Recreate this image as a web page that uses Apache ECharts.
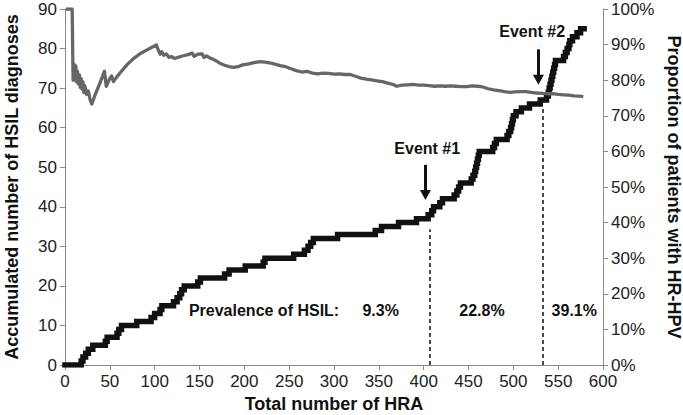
<!DOCTYPE html>
<html><head><meta charset="utf-8">
<script src="https://cdn.jsdelivr.net/npm/echarts@6/dist/echarts.min.js"></script>
<style>html,body{margin:0;padding:0;background:#fff}#c{width:683px;height:415px}</style>
</head><body><div id="c"></div>
<script>
// Accumulated number of HSIL diagnoses (step curve): HRA count -> accumulated count
const hsilX = [0,18,20,23,26,31,45,47,58,60,63,80,96,100,106,108,121,125,128,130,133,148,151,178,183,201,221,223,255,267,271,274,277,304,346,353,372,392,405,409,411,418,421,434,437,439,441,453,455,457,458,459,460,461,462,477,479,481,493,495,497,498,499,500,503,509,518,530,537,539,540,541,542,543,544,545,546,547,556,558,560,562,563,566,571,575,579];
const hsilY = [0,1,2,3,4,5,6,7,8,9,10,11,12,13,14,15,16,17,18,19,20,21,22,23,24,25,26,27,28,29,30,31,32,33,34,35,36,37,38,39,40,41,42,43,44,45,46,47,48,49,50,51,52,53,54,55,56,57,58,59,60,61,62,63,64,65,66,67,68,69,70,71,72,73,74,75,76,77,78,79,80,81,82,83,84,85,85];
// Proportion of patients with HR-HPV (%)
const hpvX = [1,8,9,10,11,12,13,14,15,16,17,18,19,20,21,22,24,26,28,30,33,37,41,44,46,49,52,54,58,63,69,76,84,92,98,102,104,106,108,110,113,116,119,122,126,131,137,142,144,148,153,155,158,162,166,170,174,178,183,188,193,198,205,212,218,223,228,234,240,246,252,258,264,270,276,282,288,294,300,306,312,318,324,330,336,342,348,354,360,366,370,376,382,388,394,400,406,412,418,424,430,436,442,448,454,460,466,472,478,484,490,496,502,508,514,520,526,532,538,544,550,556,562,568,574,578];
const hpvPct = [100,100,80,84.5,80,84,79.5,82.5,79,81.5,78,80.5,77.5,79.5,76.5,78.5,76,77,74.5,73.3,75.5,78,80.5,82.5,78.3,80,81.2,79.6,81,82.5,84.3,86,87.5,88.6,89.4,89.9,88.5,87.3,88,87,87.4,86.4,86.6,86.1,86.4,86.8,87.2,87.6,86.7,87.3,87.4,86.4,86.8,86.2,85.8,85.2,84.6,84.2,83.8,83.6,83.8,84.3,84.6,85,85.2,85.1,84.9,84.5,84.1,83.8,83.2,82.7,82.3,82.5,82,81.8,82,81.9,81.7,81.8,81.6,81.6,81.1,80.6,80.3,80.1,79.8,79.6,79.2,78.8,78.3,78.6,78.7,78.8,78.6,78.6,78.5,78.3,78.4,78.3,78.4,78.3,78.2,78.2,78.4,78.3,78.1,77.6,77.3,77.1,76.8,76.6,76.7,76.8,76.8,76.6,76.4,76.3,76.2,76.2,76,75.9,75.8,75.6,75.5,75.4];
// Annotations
const eventX = [407, 533];
const eventLineTop = [34.3, 64.7];
const eventNames = ['Event #1', 'Event #2'];
const eventLabelPos = [[404, 54.7], [521, 84.2]];
const arrowX = [402, 528];
const arrowFrom = [50.6, 79.8];
const arrowTo = [43.0, 72.1];
const prevTexts = ['Prevalence of HSIL:', '9.3%', '22.8%', '39.1%'];
const prevTextX = [222, 352, 465, 568];
const prevTextY = 13.8;

const FONT = 'Liberation Sans, Arial, Helvetica, sans-serif';
const axisGray = '#8a8a8a';

const blackData = hsilX.map((x, i) => [x, hsilY[i]]);
const grayData = hpvX.map((x, i) => [x, hpvPct[i]]);

const mlData = [];
eventX.forEach((x, i) => {
  mlData.push([{coord: [x, 0], symbol: 'none'}, {coord: [x, eventLineTop[i]], symbol: 'none'}]);
});
arrowX.forEach((x, i) => {
  mlData.push([
    {coord: [x, arrowFrom[i]], symbol: 'none', lineStyle: {type: 'solid', width: 3, color: '#111'}},
    {coord: [x, arrowTo[i]], symbol: 'triangle', symbolSize: [11, 10], lineStyle: {type: 'solid', width: 3, color: '#111'}}
  ]);
});
const mpData = [];
eventNames.forEach((t, i) => mpData.push({coord: eventLabelPos[i], value: t}));
prevTexts.forEach((t, i) => mpData.push({coord: [prevTextX[i], prevTextY], value: t}));

const chart = echarts.init(document.getElementById('c'), null, {renderer: 'svg'});
chart.setOption({
  animation: false,
  backgroundColor: '#fff',
  textStyle: {fontFamily: FONT},
  grid: {left: 65, right: 80, top: 9, bottom: 50, outerBoundsMode: 'none', containLabel: false},
  xAxis: {
    type: 'value', min: 0, max: 600, interval: 50,
    name: 'Total number of HRA', nameLocation: 'middle', nameGap: 28,
    nameTextStyle: {fontFamily: FONT, fontSize: 18, fontWeight: 'bold', color: '#111'},
    axisLine: {show: true, lineStyle: {color: axisGray}},
    axisTick: {show: true, length: 5, lineStyle: {color: axisGray}},
    axisLabel: {fontFamily: FONT, fontSize: 17, color: '#222', margin: 8},
    splitLine: {show: false}
  },
  yAxis: [{
    type: 'value', min: 0, max: 90, interval: 10,
    name: 'Accumulated number of HSIL diagnoses', nameLocation: 'middle', nameGap: 44,
    nameTextStyle: {fontFamily: FONT, fontSize: 18, fontWeight: 'bold', color: '#111'},
    axisLine: {show: true, lineStyle: {color: axisGray}},
    axisTick: {show: true, length: 5, lineStyle: {color: axisGray}},
    axisLabel: {fontFamily: FONT, fontSize: 17, lineHeight: 14, color: '#222', margin: 8},
    splitLine: {show: false}
  }, {
    type: 'value', min: 0, max: 100, interval: 10, position: 'right',
    name: 'Proportion of patients with HR-HPV', nameLocation: 'middle', nameGap: 55, nameRotate: -90,
    nameTextStyle: {fontFamily: FONT, fontSize: 18, fontWeight: 'bold', color: '#111'},
    axisLine: {show: true, lineStyle: {color: axisGray}},
    axisTick: {show: true, length: 5, lineStyle: {color: axisGray}},
    axisLabel: {fontFamily: FONT, fontSize: 17, lineHeight: 14, color: '#222', margin: 8, formatter: '{value}%'},
    splitLine: {show: false}
  }],
  series: [{
    type: 'line', yAxisIndex: 0, data: blackData, step: 'end', showSymbol: false,
    lineStyle: {color: '#111', width: 5.5, join: 'miter', cap: 'square'},
    z: 2,
    markLine: {
      silent: true, symbol: ['none', 'none'], animation: false,
      label: {show: false},
      lineStyle: {type: [4, 3], color: '#111', width: 1.5},
      emphasis: {disabled: true},
      data: mlData
    },
    markPoint: {
      silent: true, symbol: 'rect', symbolSize: 1,
      itemStyle: {color: 'rgba(0,0,0,0)'},
      label: {show: true, position: 'inside', formatter: p => p.value, fontFamily: FONT, fontSize: 16, fontWeight: 'bold', color: '#111'},
      data: mpData
    }
  }, {
    type: 'line', yAxisIndex: 1, data: grayData, showSymbol: false,
    lineStyle: {color: '#666', width: 3.3, join: 'round'},
    z: 3
  }]
});
</script>
</body></html>
